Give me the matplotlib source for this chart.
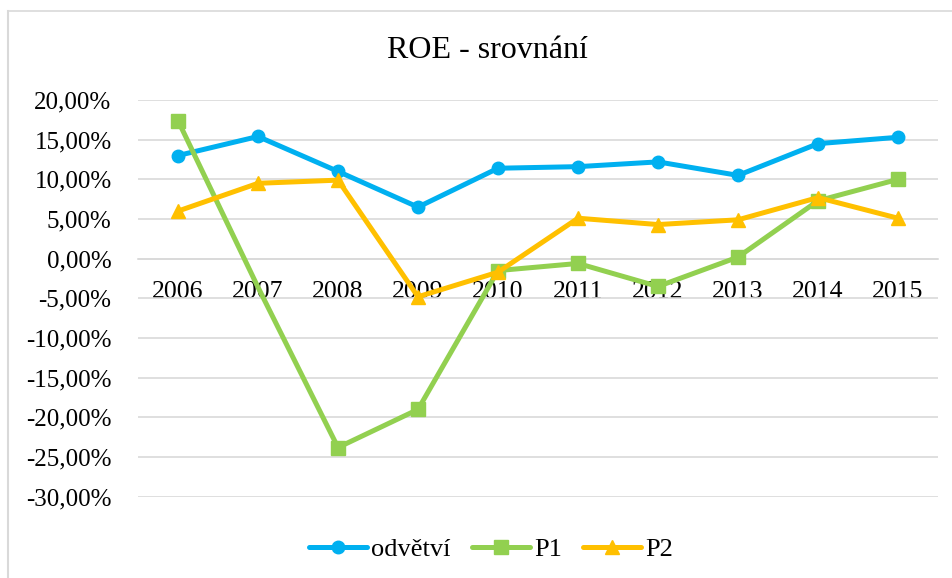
import matplotlib
matplotlib.use("Agg")
import matplotlib.pyplot as plt
from matplotlib.lines import Line2D
from matplotlib.ticker import FuncFormatter, MultipleLocator

years = ["2006", "2007", "2008", "2009", "2010", "2011", "2012", "2013", "2014", "2015"]
odvetvi = [13.0, 15.4, 11.0, 6.5, 11.4, 11.6, 12.2, 10.5, 14.5, 15.3]
p1 = [17.4, -3.6, -23.8, -19.0, -1.5, -0.6, -3.5, 0.2, 7.3, 10.0]
p2 = [6.0, 9.5, 9.9, -4.8, -1.7, 5.1, 4.3, 4.9, 7.7, 5.1]
series_names = ["odvětví", "P1", "P2"]

plt.rcParams["font.family"] = ["Liberation Serif", "DejaVu Serif"]

fig = plt.figure(figsize=(9.52, 5.78), dpi=100)
ax = fig.add_axes([138 / 952, 1 - 496.7 / 578, 800 / 952, (496.7 - 100) / 578])

x = list(range(len(years)))
ax.plot(x, odvetvi, color="#00B0F0", lw=3.6, marker="o", ms=9,
        label=series_names[0], solid_capstyle="round", zorder=3)
ax.plot(x, p1, color="#92D050", lw=3.6, marker="s", ms=10.5,
        markevery=[0, 2, 3, 4, 5, 6, 7, 8, 9],
        label=series_names[1], solid_capstyle="round", zorder=3)
ax.plot(x, p2, color="#FFC000", lw=3.6, marker="^", ms=10,
        label=series_names[2], solid_capstyle="round", zorder=3)

ax.set_xlim(-0.5, len(years) - 0.5)
ax.set_ylim(-30, 20)
ax.yaxis.set_major_locator(MultipleLocator(5))
ax.yaxis.set_major_formatter(FuncFormatter(lambda v, p: f"{v:.2f}%".replace(".", ",")))
ax.grid(axis="y", color="#D9D9D9", lw=1.2, zorder=0)
ax.set_axisbelow(True)

for s in ["top", "right", "left"]:
    ax.spines[s].set_visible(False)
ax.spines["bottom"].set_position(("data", 0))
ax.spines["bottom"].set_color("#D9D9D9")
ax.spines["bottom"].set_linewidth(1.2)

ax.set_xticks(x)
ax.set_xticklabels(years)
ax.tick_params(axis="x", length=0, pad=16, labelsize=18.5)
ax.tick_params(axis="y", length=0, pad=19, labelsize=18)

fig.text(487 / 952, 1 - 51 / 578, "ROE - srovnání", ha="center", va="center", fontsize=23)

leg = fig.legend(loc="center", bbox_to_anchor=(491 / 952, 1 - 549 / 578), ncol=3,
                 frameon=False, fontsize=19, handlelength=2.2, handletextpad=0.15,
                 columnspacing=0.8)

# chart border
fig.add_artist(Line2D([8 / 952, 8 / 952], [0, 1 - 10.5 / 578], transform=fig.transFigure,
                      color="#D9D9D9", lw=1.5))
fig.add_artist(Line2D([8 / 952, 1], [1 - 10.5 / 578, 1 - 10.5 / 578], transform=fig.transFigure,
                      color="#D9D9D9", lw=1.2))

fig.savefig("out.png", dpi=100)
